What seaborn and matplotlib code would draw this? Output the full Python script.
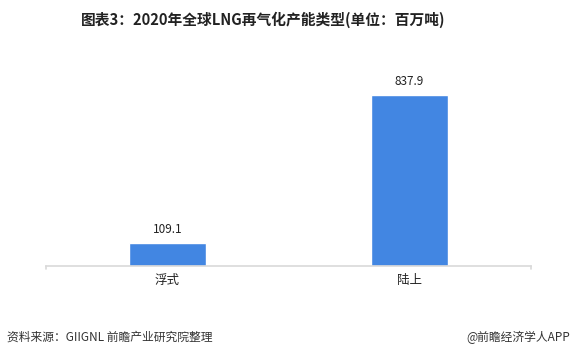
import matplotlib
matplotlib.use('Agg')
import matplotlib.pyplot as plt
import seaborn as sns
import pandas as pd

categories = ['浮式', '陆上']
capacity = [109.1, 837.9]

title = '图表3：2020年全球LNG再气化产能类型(单位：百万吨)'
source = '资料来源：GIIGNL 前瞻产业研究院整理'
brand = '@前瞻经济学人APP'

sns.set_style('white')
plt.rcParams['font.family'] = ['Noto Sans CJK SC', 'DejaVu Sans']

df = pd.DataFrame({'type': categories, 'value': capacity})

fig = plt.figure(figsize=(5.78, 3.59), dpi=100)
ax = fig.add_axes([0.0804, 0.2604, 0.8376, 0.5585])

sns.barplot(data=df, x='type', y='value', color='#4286E2', width=0.32,
            saturation=1, ax=ax)

ax.set_xlim(-0.5, 1.5)
ax.set_ylim(0, 985)
ax.set_xlabel('')
ax.set_ylabel('')
ax.set_yticks([])
for s in ['top', 'right', 'left']:
    ax.spines[s].set_visible(False)
ax.spines['bottom'].set_color('#d9d9d9')
ax.spines['bottom'].set_linewidth(1.2)
ax.tick_params(axis='x', length=0, pad=6, labelsize=9, labelcolor='#222222')

# small end ticks on the axis line
for xe in [-0.5, 1.5]:
    ax.plot([xe, xe], [0, -15], color='#d9d9d9', lw=1.2, clip_on=False)

for i, v in enumerate(capacity):
    ax.text(i, v + 35, f'{v:.1f}', ha='center', va='bottom', fontsize=8.5,
            color='#222222')

fig.text(0.455, 0.944, title, ha='center', va='center', fontsize=10.6,
         fontweight='bold', color='#222222')
fig.text(0.012, 0.061, source, ha='left', va='center', fontsize=8.5,
         color='#333333')
fig.text(0.987, 0.061, brand, ha='right', va='center', fontsize=8.5,
         color='#333333')

fig.savefig('out.png', dpi=100)
